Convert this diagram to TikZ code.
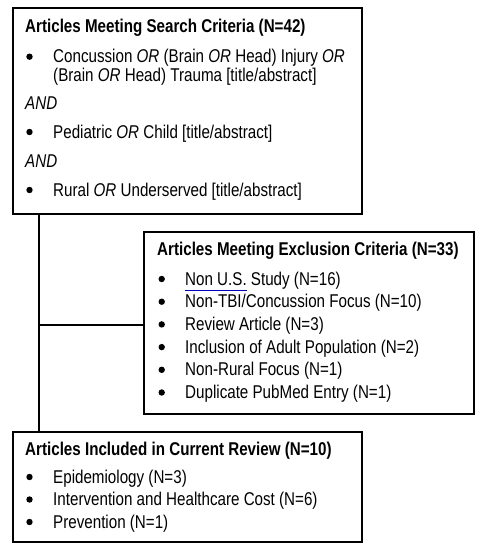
\documentclass[tikz,border=0pt]{standalone}
\usepackage{fontspec}
\setmainfont[FakeStretch=0.82]{Liberation Sans}
\begin{document}
\begin{tikzpicture}[x=1pt,y=-1pt,
  box/.style={draw=black,line width=2.4pt,inner sep=0pt},
  conn/.style={draw=black,line width=2.4pt},
  txt/.style={anchor=base west,inner sep=0pt,font=\fontsize{18.5}{22}\selectfont},
  ttl/.style={txt,font=\fontsize{18.5}{22}\selectfont\bfseries},
  bul/.style={circle,fill=black,inner sep=0pt,minimum size=6.4pt,yshift=6pt}]
\useasboundingbox (0,0) rectangle (484,550);
% boxes
\node[box,minimum width=349.5pt,minimum height=206pt] (b1) at (187.5,111) {};
\node[box,minimum width=330pt,minimum height=182pt] (b2) at (309.2,323) {};
\node[box,minimum width=349.5pt,minimum height=110pt] (b3) at (187.5,487) {};
\coordinate (vx) at (38.7,325);
% connectors
\draw[conn] (b1.south -| vx) -- (b3.north -| vx);
\draw[conn] (vx) -- (vx -| b2.west);
% box 1 text
\node[ttl] (t1) at (25,32.5) {Articles Meeting Search Criteria (N=42)};
\node[bul] (u1) at (29.5,62.7) {};
\node[txt] (l1a) at (53,62.7) {Concussion \textit{OR} (Brain \textit{OR} Head) Injury \textit{OR}};
\node[txt] (l1b) at (53,81.7) {(Brain \textit{OR} Head) Trauma [title/abstract]};
\node[txt] (a1) at (25,109.5) {\textit{AND}};
\node[bul] (u2) at (29.5,138) {};
\node[txt] (l2) at (53,138) {Pediatric \textit{OR} Child [title/abstract]};
\node[txt] (a2) at (25,167) {\textit{AND}};
\node[bul] (u3) at (29.5,196) {};
\node[txt] (l3) at (53,196) {Rural \textit{OR} Underserved [title/abstract]};
% box 2 text
\node[ttl] (t2) at (157,255) {Articles Meeting Exclusion Criteria (N=33)};
\node[bul] (v1) at (161.7,285) {};
\node[txt] (m1) at (185,285) {Non U.S. Study (N=16)};
\node[bul] (v2) at (161.7,307.7) {};
\node[txt] (m2) at (185,307.7) {Non-TBI/Concussion Focus (N=10)};
\node[bul] (v3) at (161.7,330.4) {};
\node[txt] (m3) at (185,330.4) {Review Article (N=3)};
\node[bul] (v4) at (161.7,353.1) {};
\node[txt] (m4) at (185,353.1) {Inclusion of Adult Population (N=2)};
\node[bul] (v5) at (161.7,375.8) {};
\node[txt] (m5) at (185,375.8) {Non-Rural Focus (N=1)};
\node[bul] (v6) at (161.7,398.5) {};
\node[txt] (m6) at (185,398.5) {Duplicate PubMed Entry (N=1)};
\coordinate (sq1) at (185,290.5);
\coordinate (sq2) at (246.5,290.5);
\draw[blue!75!black,line width=1pt] (sq1) -- (sq2);
% box 3 text
\node[ttl] (t3) at (25,455) {Articles Included in Current Review (N=10)};
\node[bul] (w1) at (29.5,483) {};
\node[txt] (n1) at (53,483) {Epidemiology (N=3)};
\node[bul] (w2) at (29.5,505.5) {};
\node[txt] (n2) at (53,505.5) {Intervention and Healthcare Cost (N=6)};
\node[bul] (w3) at (29.5,528) {};
\node[txt] (n3) at (53,528) {Prevention (N=1)};
\end{tikzpicture}
\end{document}
